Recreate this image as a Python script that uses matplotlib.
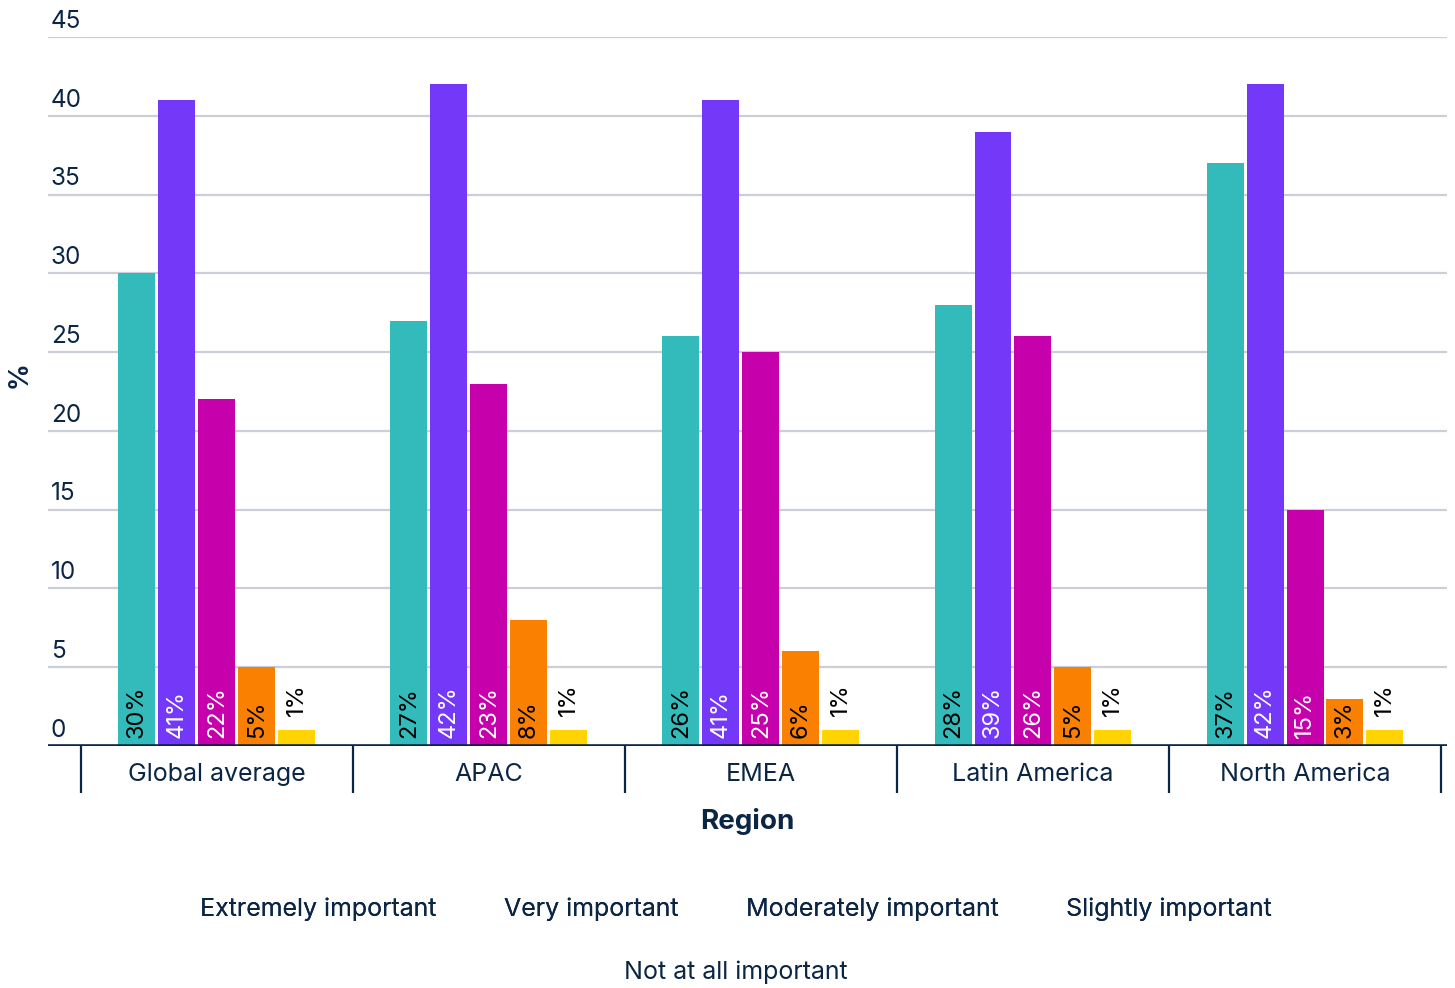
import matplotlib.pyplot as plt
import numpy as np
from matplotlib.transforms import blended_transform_factory

plt.rcParams['font.family'] = ['Inter', 'DejaVu Sans']

# survey results per region (share of respondents, %)
regions = ['Global average', 'APAC', 'EMEA', 'Latin America', 'North America']
series_names = ['Extremely important', 'Very important', 'Moderately important',
                'Slightly important', 'Not at all important']
extremely = [30, 27, 26, 28, 37]
very = [41, 42, 41, 39, 42]
moderately = [22, 23, 25, 26, 15]
slightly = [5, 8, 6, 5, 3]
not_at_all = [1, 1, 1, 1, 1]
yticks = [0, 5, 10, 15, 20, 25, 30, 35, 40, 45]

values = [extremely, very, moderately, slightly, not_at_all]
colors = ['#33BBBB', '#7338F8', '#C600AB', '#F98000', '#FFD400']
label_colors = ['black', 'white', 'white', 'black', 'black']

navy = '#0B2545'
grid_c = '#CBD0D8'

fig = plt.figure(figsize=(14.55, 9.88), dpi=100)
ax = fig.add_axes([48 / 1455, 1 - 746 / 988, (1447 - 48) / 1455, (746 - 37) / 988])

x = np.arange(len(regions))
width = 0.136
step = 0.147

for i, (vals, col, lc) in enumerate(zip(values, colors, label_colors)):
    pos = x + (i - 2) * step
    ax.bar(pos, vals, width=width, color=col, zorder=2)
    for px, v in zip(pos, vals):
        if v >= 3:
            ax.annotate(f'{v}%', (px, 0), xytext=(0, 6), textcoords='offset points',
                        rotation=90, ha='center', va='bottom', fontsize=17, color=lc, zorder=3)
        else:
            ax.annotate(f'{v}%', (px, v), xytext=(0, 10), textcoords='offset points',
                        rotation=90, ha='center', va='bottom', fontsize=17, color='black', zorder=3)

ax.set_xlim(-0.621, 4.522)
ax.set_ylim(0, 45)

# horizontal gridlines with labels sitting above them
trans = blended_transform_factory(ax.transAxes, ax.transData)
for t in yticks:
    if t > 0:
        ax.axhline(t, color=grid_c, lw=1.6, zorder=1)
    ax.annotate(str(t), (0.002, t), xycoords=trans, xytext=(0, 3), textcoords='offset points',
                ha='left', va='bottom', fontsize=17.5, color=navy, annotation_clip=False)
ax.axhline(0, color=navy, lw=2.6, zorder=4)
ax.set_yticks([])

for s in ax.spines.values():
    s.set_visible(False)

# region labels with separator ticks between groups
ax.set_xticks(x)
ax.set_xticklabels(regions, fontsize=18, color=navy)
ax.tick_params(axis='x', which='major', length=0, pad=12)
ax.set_xticks(np.arange(-0.5, len(regions)), minor=True)
ax.tick_params(axis='x', which='minor', length=34, width=1.6, color=navy)

ax.set_xlabel('Region', fontsize=20, fontweight='bold', color=navy, labelpad=7)
fig.text(20 / 1455, 1 - 375 / 988, '%', rotation=90, ha='center', va='center',
         fontsize=19, fontweight='bold', color=navy)

# legend text only, no swatches
handles = [plt.Rectangle((0, 0), 0, 0, visible=False) for _ in series_names]
leg1 = fig.legend(handles[:4], series_names[:4], loc='center', ncol=4,
                  bbox_to_anchor=(736 / 1455, 1 - 909 / 988), frameon=False,
                  handlelength=0, handletextpad=0, columnspacing=2.7, fontsize=18,
                  labelcolor=navy)
leg2 = fig.legend(handles[4:], series_names[4:], loc='center',
                  bbox_to_anchor=(736 / 1455, 1 - 972 / 988), frameon=False,
                  handlelength=0, handletextpad=0, fontsize=18, labelcolor=navy)
fig.add_artist(leg1)

fig.savefig('out.png', dpi=100)
